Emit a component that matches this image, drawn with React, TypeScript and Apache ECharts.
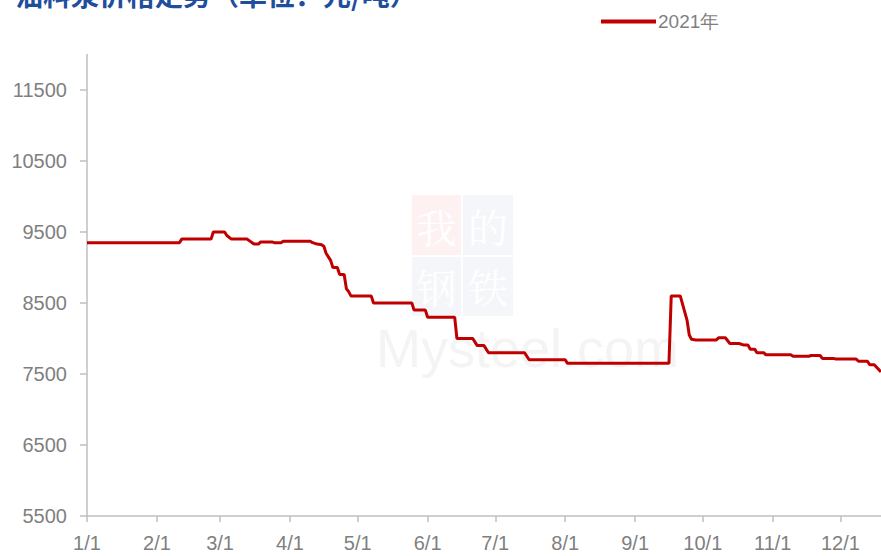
import React, { useEffect, useRef } from "react";
import * as echarts from "echarts";

// Day-of-year (0 = Jan 1, 2021) and price (元/吨)
const days: number[] = [
  0, 41, 42, 55, 56, 61, 62, 64, 71, 74, 76, 77, 82, 83, 86, 87, 99, 100, 102, 104,
  105, 106, 107, 108, 109, 111, 112, 114, 115, 116, 117, 126, 127, 144, 145, 150, 151,
  163, 164, 171, 173, 176, 178, 194, 196, 212, 213, 258, 259, 263, 266, 267, 268, 270,
  279, 280, 283, 285, 289, 291, 293, 294, 296, 297, 300, 301, 312, 313, 320, 321, 325,
  326, 331, 332, 341, 342, 346, 347, 349, 352,
];
const prices: number[] = [
  9350, 9350, 9400, 9400, 9500, 9500, 9450, 9400, 9400, 9330, 9330, 9360, 9360, 9350,
  9350, 9370, 9370, 9350, 9330, 9320, 9300, 9200, 9150, 9100, 9000, 9000, 8900, 8900,
  8700, 8660, 8600, 8600, 8500, 8500, 8400, 8400, 8300, 8300, 8000, 8000, 7900, 7900,
  7800, 7800, 7700, 7700, 7650, 7650, 8600, 8600, 8260, 8050, 7990, 7980, 7980, 8010,
  8010, 7930, 7930, 7910, 7910, 7850, 7850, 7800, 7800, 7770, 7770, 7750, 7750, 7760,
  7760, 7720, 7720, 7710, 7710, 7680, 7680, 7630, 7630, 7530,
];

const monthStarts: number[] = [0, 31, 59, 90, 120, 151, 181, 212, 243, 273, 304, 334];
const monthLabels: string[] = ["1/1", "2/1", "3/1", "4/1", "5/1", "6/1", "7/1", "8/1", "9/1", "10/1", "11/1", "12/1"];
const yTicks: number[] = [5500, 6500, 7500, 8500, 9500, 10500, 11500];

const seriesName = "2021年";
const title = "油料浆价格走势（单位：元/吨）";

export default function App() {
  const ref = useRef<HTMLDivElement>(null);
  useEffect(() => {
    if (!ref.current) return;
    const chart = echarts.init(ref.current, null, { renderer: "svg" });
    const labelFont = "'Liberation Sans', Arial, sans-serif";
    const wmFont = "'Noto Serif CJK SC', 'Noto Sans CJK SC', serif";
    const data = days.map((d, i) => [d, prices[i]]);
    const wmChar = (ch: string, x: number, y: number) => ({
      type: "text",
      x,
      y,
      z: -9,
      style: { text: ch, fill: "#ffffff", stroke: "none", fontSize: 40, fontFamily: wmFont, align: "center", verticalAlign: "middle" },
    });
    chart.setOption({
      animation: false,
      backgroundColor: "#ffffff",
      grid: { left: 87, right: 0, top: 54.5, bottom: 40, containLabel: false, outerBoundsMode: "none" },
      legend: {
        left: 596,
        top: 7,
        icon: "rect",
        itemWidth: 55,
        itemHeight: 4,
        itemGap: 10,
        data: [seriesName],
        textStyle: { color: "#7f7f7f", fontSize: 19, fontFamily: labelFont, padding: [0, 0, 0, -3] },
      },
      xAxis: {
        type: "value",
        min: 0,
        max: 352,
        splitLine: { show: false },
        axisLine: { show: true, lineStyle: { color: "#bfbfbf", width: 1.5 } },
        axisTick: { show: true, length: 6, lineStyle: { color: "#bfbfbf", width: 1.5 }, customValues: monthStarts },
        axisLabel: {
          customValues: monthStarts,
          color: "#7f7f7f",
          fontSize: 20,
          fontFamily: labelFont,
          margin: 17,
          formatter: (v: number) => {
            const idx = monthStarts.indexOf(Math.round(v));
            return idx >= 0 ? monthLabels[idx] : "";
          },
        },
      },
      yAxis: {
        type: "value",
        min: 5500,
        max: 12000,
        splitLine: { show: false },
        axisLine: { show: true, lineStyle: { color: "#bfbfbf", width: 1.5 } },
        axisTick: { show: true, length: 7, lineStyle: { color: "#bfbfbf", width: 1.5 }, customValues: yTicks },
        axisLabel: {
          customValues: yTicks,
          color: "#7f7f7f",
          fontSize: 20,
          fontFamily: labelFont,
          margin: 20,
          formatter: (v: number) => String(v),
        },
      },
      graphic: {
        elements: [
          {
            type: "text",
            left: 15,
            top: -20,
            z: 10,
            style: {
              text: title,
              fill: "#1f4e9c",
              fontSize: 28,
              fontWeight: "bold",
              fontFamily: "'Noto Sans CJK SC', sans-serif",
            },
          },
          { type: "rect", shape: { x: 412, y: 195, width: 49, height: 60 }, style: { fill: "#fdf1f1" }, z: -10 },
          { type: "rect", shape: { x: 463, y: 195, width: 50, height: 60 }, style: { fill: "#f4f6fa" }, z: -10 },
          { type: "rect", shape: { x: 412, y: 257, width: 49, height: 59 }, style: { fill: "#f4f6fa" }, z: -10 },
          { type: "rect", shape: { x: 463, y: 257, width: 50, height: 59 }, style: { fill: "#f4f6fa" }, z: -10 },
          wmChar("我", 436.5, 225),
          wmChar("的", 488, 225),
          wmChar("钢", 436.5, 285),
          wmChar("铁", 488, 285),
          {
            type: "text", x: 376, y: 348, z: -9,
            style: { text: "Mysteel.com", fill: "#f4f4f4", fontSize: 54, fontFamily: "'Liberation Sans', Arial, sans-serif", align: "left", verticalAlign: "middle" },
          },
        ],
      },
      series: [
        {
          name: seriesName,
          type: "line",
          data,
          showSymbol: false,
          symbol: "none",
          color: "#c00000",
          lineStyle: { color: "#c00000", width: 3 },
          z: 5,
        },
      ],
    });
    return () => chart.dispose();
  }, []);
  return <div ref={ref} style={{ width: 881, height: 556, position: "absolute", left: 0, top: 0 }} />;
}
